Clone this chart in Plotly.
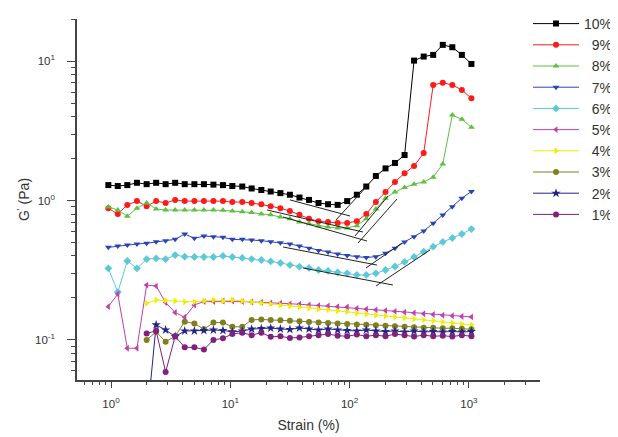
import plotly.graph_objects as go

strain = [0.95, 1.14, 1.37, 1.65, 1.99, 2.39, 2.87, 3.45, 4.15, 5.00, 6.01, 7.22, 8.68,
          10.4, 12.6, 15.1, 18.2, 21.8, 26.3, 31.6, 38.0, 45.7, 54.9, 66.0, 79.4, 95.4,
          115, 138, 166, 200, 240, 289, 347, 418, 502, 604, 726, 873, 1050]

g10 = [1.29, 1.27, 1.29, 1.34, 1.31, 1.34, 1.31, 1.34, 1.31, 1.31, 1.31, 1.30, 1.29,
       1.27, 1.26, 1.22, 1.19, 1.16, 1.13, 1.10, 1.05, 1.01, 0.96, 0.94, 0.93, 0.99,
       1.10, 1.26, 1.50, 1.70, 1.86, 2.12, 10.1, 10.8, 11.1, 13.1, 12.6, 11.1, 9.55]
g9 = [0.88, 0.80, 0.93, 0.99, 0.91, 0.99, 0.96, 1.01, 0.99, 0.99, 0.99, 0.99, 0.99,
      0.975, 0.975, 0.96, 0.94, 0.91, 0.88, 0.84, 0.79, 0.74, 0.71, 0.70, 0.69, 0.69,
      0.71, 0.80, 0.975, 1.15, 1.36, 1.57, 1.77, 2.19, 6.75, 7.01, 6.75, 6.21, 5.42]
g8 = [0.90, 0.855, 0.77, 0.88, 0.96, 0.87, 0.855, 0.855, 0.855, 0.855, 0.855, 0.855, 0.85,
      0.84, 0.83, 0.82, 0.80, 0.79, 0.76, 0.74, 0.70, 0.68, 0.66, 0.645, 0.635, 0.635,
      0.66, 0.74, 0.87, 1.04, 1.15, 1.24, 1.31, 1.36, 1.47, 1.83, 4.11, 3.83, 3.35]
g7 = [0.461, 0.471, 0.479, 0.487, 0.493, 0.506, 0.515, 0.526, 0.575, 0.535, 0.556, 0.550, 0.544,
      0.526, 0.526, 0.520, 0.515, 0.506, 0.498, 0.487, 0.471, 0.454, 0.438, 0.427, 0.413, 0.403,
      0.395, 0.390, 0.395, 0.418, 0.454, 0.504, 0.550, 0.604, 0.686, 0.787, 0.902, 1.04, 1.16]
g6 = [0.326, 0.220, 0.368, 0.326, 0.379, 0.384, 0.379, 0.406, 0.395, 0.393, 0.393, 0.393, 0.400,
      0.393, 0.387, 0.380, 0.374, 0.365, 0.356, 0.344, 0.335, 0.328, 0.317, 0.312, 0.305, 0.300,
      0.292, 0.292, 0.300, 0.317, 0.336, 0.362, 0.393, 0.429, 0.466, 0.504, 0.538, 0.575, 0.624]
g5 = [0.173, 0.213, 0.087, 0.087, 0.247, 0.243, 0.185, 0.157, 0.145, 0.178, 0.188, 0.188, 0.190,
      0.190, 0.188, 0.187, 0.186, 0.184, 0.183, 0.181, 0.180, 0.178, 0.176, 0.175, 0.173, 0.172,
      0.168, 0.166, 0.164, 0.162, 0.160, 0.158, 0.156, 0.154, 0.152, 0.150, 0.149, 0.147, 0.146]
g4 = [None, None, None, None, 0.183, 0.193, 0.191, 0.190, 0.187, 0.187, 0.190, 0.193, 0.190,
      0.193, 0.190, 0.187, 0.184, 0.181, 0.178, 0.175, 0.172, 0.169, 0.166, 0.164, 0.161, 0.159,
      0.155, 0.153, 0.150, 0.148, 0.146, 0.144, 0.141, 0.139, 0.137, 0.134, 0.132, 0.130, 0.128]
g3 = [None, None, None, None, 0.0997, 0.114, 0.097, 0.106, 0.135, 0.131, 0.119, 0.133, 0.133,
      0.124, 0.124, 0.139, 0.140, 0.139, 0.138, 0.137, 0.136, 0.134, 0.133, 0.132, 0.131, 0.130,
      0.129, 0.128, 0.127, 0.126, 0.125, 0.124, 0.123, 0.122, 0.122, 0.121, 0.121, 0.120, 0.119]
g2 = [None, None, None, None, 0.025, 0.128, 0.1176, 0.1056, 0.1157, 0.1157, 0.1167, 0.1176, 0.1167,
      0.114, 0.1157, 0.1194, 0.1204, 0.1214, 0.1196, 0.1186, 0.1216, 0.1196, 0.1176, 0.1196, 0.1176, 0.1167,
      0.1157, 0.1176, 0.1157, 0.1147, 0.1157, 0.1138, 0.1157, 0.1138, 0.1147, 0.1138, 0.1147, 0.1138, 0.1147]
g1 = [None, None, None, None, 0.111, 0.116, 0.0587, 0.106, 0.0883, 0.0883, 0.0851, 0.0997, 0.1026,
      0.110, 0.1125, 0.108, 0.1125, 0.105, 0.106, 0.103, 0.104, 0.106, 0.108, 0.110, 0.107, 0.106,
      0.109, 0.106, 0.108, 0.106, 0.110, 0.108, 0.1055, 0.108, 0.106, 0.107, 0.1055, 0.108, 0.106]

labels = ["10%", "\u00a0\u00a09%", "\u00a0\u00a08%", "\u00a0\u00a07%", "\u00a0\u00a06%",
          "\u00a0\u00a05%", "\u00a0\u00a04%", "\u00a0\u00a03%", "\u00a0\u00a02%", "\u00a0\u00a01%"]
series = [g10, g9, g8, g7, g6, g5, g4, g3, g2, g1]
colors = ["#000000", "#ff1a1a", "#5cc040", "#2a44b8", "#5cc8d8",
          "#c040b0", "#eeee00", "#7f7f20", "#23238a", "#80207f"]
symbols = ["square", "circle", "triangle-up", "triangle-down", "diamond",
           "triangle-left", "triangle-right", "circle", "star", "circle"]

# tangent (crossover) lines: [x0, x1], [y0, y1]
tangents = [
    ([31.6, 100.8], [1.01, 0.774]),
    ([76.9, 142.6], [0.725, 1.29]),
    ([20.3, 129.5], [0.855, 0.594]),
    ([111, 209.9], [0.556, 1.077]),
    ([27.7, 139.9], [0.761, 0.512]),
    ([117.6, 249.6], [0.495, 1.025]),
    ([27.7, 169.7], [0.4636, 0.344]),
    ([137.2, 274.9], [0.3277, 0.495]),
    ([40.7, 231], [0.3277, 0.2474]),
    ([166.4, 472], [0.2433, 0.4413]),
]

x_ticks = [1, 10, 100, 1000]
x_ticktext = ["10<sup>0</sup>", "10<sup>1</sup>", "10<sup>2</sup>", "10<sup>3</sup>"]
y_ticks = [0.1, 1, 10]
y_ticktext = ["10<sup>-1</sup>", "10<sup>0</sup>", "10<sup>1</sup>"]

fig = go.Figure()
for name, ys, c, s in zip(labels, series, colors, symbols):
    fig.add_trace(go.Scatter(
        x=strain, y=ys, name=name, mode="lines+markers",
        line=dict(color=c, width=1),
        marker=dict(color=c, symbol=s, size=6 if s != "star" else 7, line=dict(width=0)),
        connectgaps=False,
    ))
for tx, ty in tangents:
    fig.add_trace(go.Scatter(x=tx, y=ty, mode="lines", showlegend=False,
                             line=dict(color="#222222", width=1), hoverinfo="skip"))

minor_x = [m * 10 ** e for e in range(-1, 4) for m in range(2, 10)]
minor_y = [m * 10 ** e for e in range(-2, 2) for m in range(2, 10)]

fig.update_layout(
    width=610, height=429,
    margin=dict(l=69, r=78, t=11, b=57, autoexpand=False),
    paper_bgcolor="white", plot_bgcolor="white",
    font=dict(family="Liberation Sans, Arial, sans-serif", color="#333333", size=11),
    showlegend=True,
    legend=dict(xref="container", yref="container", x=0.8525, y=1.0127,
                xanchor="left", yanchor="top",
                font=dict(size=14, color="#333333"), itemwidth=46,
                bgcolor="rgba(0,0,0,0)"),
    xaxis=dict(type="log", range=[-0.285, 3.596], showgrid=False, zeroline=False,
               showline=True, linecolor="#444444", linewidth=1.5,
               ticks="outside", ticklen=6, tickwidth=1.2, tickcolor="#444444",
               tickvals=x_ticks, ticktext=x_ticktext, tickfont=dict(size=11.5),
               ticklabelstandoff=6,
               minor=dict(tickvals=minor_x, ticks="outside", ticklen=3, tickcolor="#444444", showgrid=False),
               title=dict(text="Strain (%)", font=dict(size=14), standoff=12)),
    yaxis=dict(type="log", range=[-1.2886, 1.303], showgrid=False, zeroline=False,
               showline=True, linecolor="#444444", linewidth=1.5,
               ticks="outside", ticklen=8, tickwidth=1.2, tickcolor="#444444",
               tickvals=y_ticks, ticktext=y_ticktext, tickfont=dict(size=11.5),
               ticklabelstandoff=10,
               minor=dict(tickvals=minor_y, ticks="outside", ticklen=4, tickcolor="#444444", showgrid=False),
               title=dict(text="G<sup>'</sup> (Pa)", font=dict(size=14), standoff=2)),
)

fig.write_html("out.html")
